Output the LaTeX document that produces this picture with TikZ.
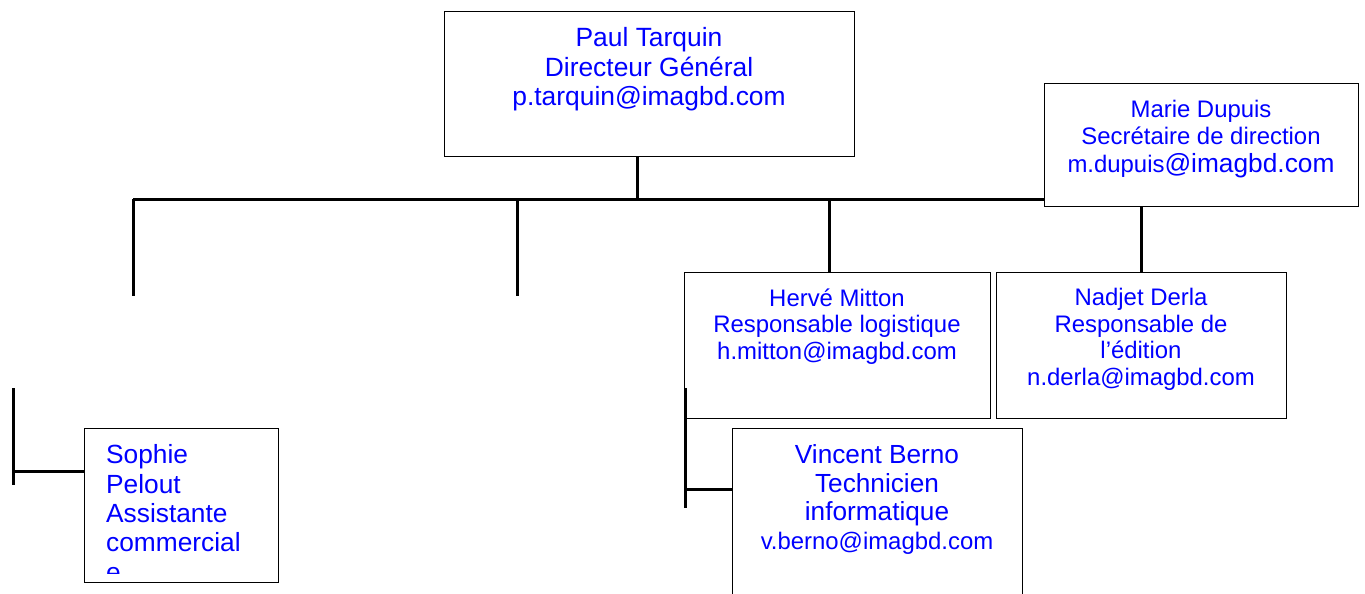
\documentclass[tikz,border=0pt]{standalone}
\usepackage{fontspec}
\setmainfont{Liberation Sans}
\usepackage{xcolor}

\begin{document}
\begin{tikzpicture}[x=1bp,y=-1bp,line cap=butt,
  box/.style={draw,line width=1.3bp,anchor=north west,inner sep=0pt},
  txt/.style={text=blue,inner sep=0pt,align=center,anchor=north},
  wire/.style={line width=3bp}]
\clip (0,0) rectangle (1365,594);
\fill[white] (0,0) rectangle (1365,594);
\node[box,minimum width=410bp,minimum height=145bp] (paul) at (444,11) {};
\node[box,minimum width=314bp,minimum height=123bp] (marie) at (1044,83) {};
\node[box,minimum width=306bp,minimum height=146bp] (herve) at (684,272) {};
\node[box,minimum width=290bp,minimum height=146bp] (nadjet) at (996,272) {};
\node[box,minimum width=290bp,minimum height=180bp] (vincent) at (732,428) {};
\node[box,minimum width=194bp,minimum height=154bp] (sophie) at (84,428) {};
\node[txt,font=\fontsize{26.5}{29.5}\selectfont] (paul-txt) at (649,27.5)
  {Paul Tarquin\\Directeur Général\\p.tarquin@imagbd.com};
\node[txt,font=\fontsize{24}{27.5}\selectfont] (marie-txt) at (1201,100)
  {Marie Dupuis\\Secrétaire de direction\\m.dupuis{\fontsize{26.4}{27.5}\selectfont @imagbd.com}};
\node[txt,font=\fontsize{24}{26.7}\selectfont] (herve-txt) at (837,288.5)
  {Hervé Mitton\\Responsable logistique\\h.mitton@imagbd.com};
\node[txt,font=\fontsize{24}{26.7}\selectfont] (nadjet-txt) at (1141,288)
  {Nadjet Derla\\Responsable de\\l’édition\\n.derla@imagbd.com};
\node[txt,font=\fontsize{26.3}{29}\selectfont] (vincent-txt) at (877,444)
  {Vincent Berno\\Technicien\\informatique\\{\fontsize{24}{27.5}\selectfont v.berno@imagbd.com}};
\begin{scope}
\clip (84,428) rectangle (278,573);
\node[txt,align=left,anchor=north west,font=\fontsize{26.4}{29.5}\selectfont] (sophie-txt) at (106,444.4)
  {Sophie\\Pelout\\Assistante\\commercial\\e};
\end{scope}
\coordinate (hub) at (637,199);
\coordinate (bl) at (133,199);
\coordinate (d1) at (133,296);
\coordinate (d2) at (517,296);
\coordinate (d3) at (829,199);
\coordinate (v1) at (685,388);
\coordinate (v2) at (685,508);
\coordinate (vj) at (685,489);
\coordinate (s1) at (13,388);
\coordinate (s2) at (13,485);
\coordinate (sj) at (13,471);
\draw[wire] (hub |- paul.south) -- (hub);
\draw[wire] (bl) -- (bl -| marie.west);
\draw[wire] (bl) -- (d1);
\draw[wire] (d2 |- bl) -- (d2);
\draw[wire] (d3) -- (d3 |- herve.north);
\draw[wire] (marie.south -| nadjet.north) -- (nadjet.north);
\draw[wire] (v1) -- (v2);
\draw[wire] (vj) -- (vj -| vincent.west);
\draw[wire] (s1) -- (s2);
\draw[wire] (sj) -- (sj -| sophie.west);
\end{tikzpicture}
\end{document}
